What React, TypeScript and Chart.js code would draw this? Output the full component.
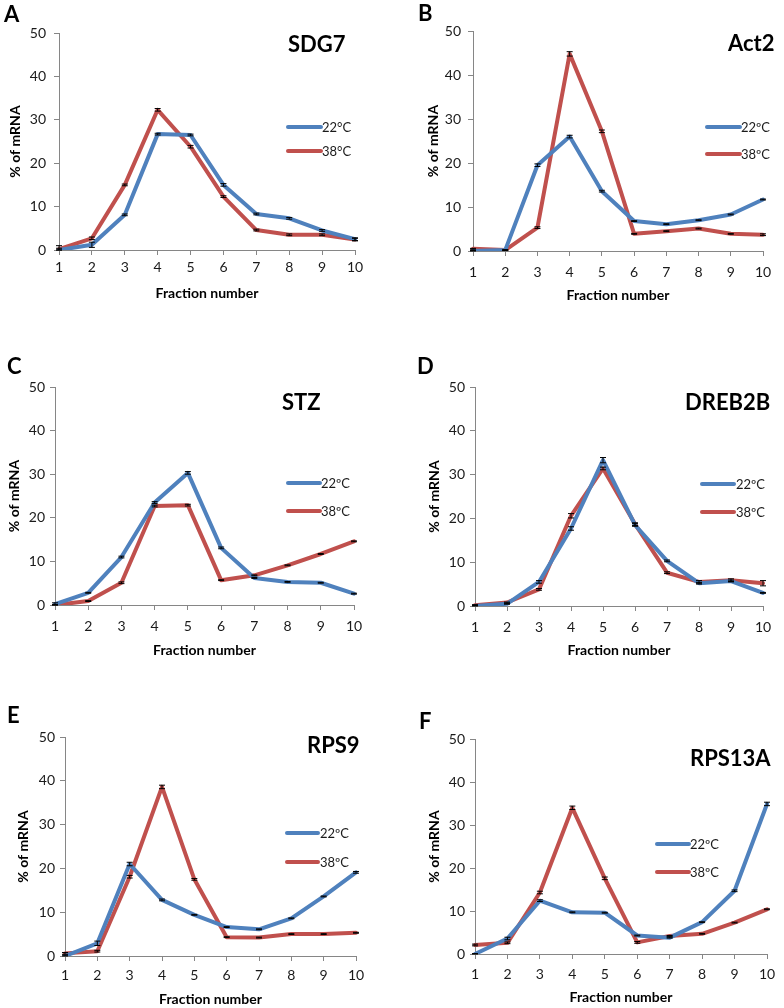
import React, { useEffect, useRef } from "react";
import { Chart, registerables } from "chart.js";
Chart.register(...registerables);

// ---------- data ----------
const fractions = ["1", "2", "3", "4", "5", "6", "7", "8", "9", "10"];
const yMin = 0;
const yMax = 50;
const yStep = 10;

const sdg7_22 = [0, 1.2, 8.1, 26.7, 26.5, 15.0, 8.3, 7.3, 4.5, 2.5];
const sdg7_38 = [0.2, 2.7, 15.0, 32.3, 23.8, 12.3, 4.6, 3.5, 3.5, 2.4];
const sdg7_22_err = [1.0, 0.6, 0.2, 0.2, 0.2, 0.3, 0.2, 0.2, 0.2, 0.3];
const sdg7_38_err = [0.2, 0.3, 0.2, 0.3, 0.3, 0.2, 0.2, 0.2, 0.2, 0.3];

const act2_22 = [0, 0.2, 19.5, 26.0, 13.6, 6.8, 6.1, 7.0, 8.3, 11.7];
const act2_38 = [0.5, 0.2, 5.3, 44.8, 27.2, 3.9, 4.5, 5.1, 3.9, 3.7];
const act2_22_err = [0.1, 0.1, 0.3, 0.3, 0.2, 0.1, 0.1, 0.1, 0.1, 0.1];
const act2_38_err = [0.1, 0.1, 0.2, 0.5, 0.3, 0.1, 0.1, 0.1, 0.1, 0.2];

const stz_22 = [0.2, 2.8, 11.0, 23.5, 30.3, 13.1, 6.2, 5.3, 5.1, 2.6];
const stz_38 = [0, 0.9, 5.1, 22.7, 22.9, 5.7, 6.8, 9.1, 11.7, 14.6];
const stz_22_err = [0.3, 0.1, 0.2, 0.2, 0.3, 0.2, 0.1, 0.1, 0.1, 0.1];
const stz_38_err = [0.1, 0.1, 0.2, 0.2, 0.2, 0.1, 0.1, 0.1, 0.1, 0.1];

const dreb2b_22 = [0, 0.5, 5.5, 17.7, 33.3, 18.5, 10.3, 5.2, 5.7, 3.0];
const dreb2b_38 = [0.2, 0.8, 3.8, 20.6, 31.4, 18.7, 7.6, 5.5, 5.9, 5.2];
const dreb2b_22_err = [0.2, 0.1, 0.3, 0.4, 0.6, 0.3, 0.2, 0.2, 0.2, 0.1];
const dreb2b_38_err = [0.1, 0.1, 0.2, 0.5, 0.3, 0.3, 0.2, 0.3, 0.3, 0.6];

const rps9_22 = [0, 2.9, 21.0, 12.8, 9.4, 6.6, 6.1, 8.6, 13.6, 19.1];
const rps9_38 = [0.6, 1.1, 18.1, 38.6, 17.5, 4.3, 4.2, 5.0, 5.0, 5.3];
const rps9_22_err = [0.2, 0.5, 0.4, 0.2, 0.1, 0.1, 0.1, 0.1, 0.1, 0.2];
const rps9_38_err = [0.2, 0.2, 0.3, 0.4, 0.2, 0.1, 0.1, 0.1, 0.1, 0.1];

const rps13a_22 = [0, 3.6, 12.4, 9.7, 9.6, 4.3, 3.8, 7.4, 14.7, 34.9];
const rps13a_38 = [2.1, 2.6, 14.3, 34.0, 17.6, 2.7, 4.2, 4.7, 7.3, 10.4];
const rps13a_22_err = [0.1, 0.3, 0.2, 0.1, 0.1, 0.1, 0.1, 0.1, 0.2, 0.4];
const rps13a_38_err = [0.2, 0.2, 0.3, 0.4, 0.3, 0.2, 0.1, 0.1, 0.1, 0.1];

const legendDeg = ["22°C", "38°C"];
const legendOrd = ["22ºC", "38ºC"];
const xTitle = "Fraction number";
const yTitle = "% of mRNA";

// ---------- style ----------
const BLUE = "#4F81BD";
const RED = "#C0504D";
const AXIS = "#868686";
const TEXT = "#1a1a1a";
const FONT = "Lato, 'Open Sans', sans-serif";
const CW = 392;
const YW = 52;
const XH = 52;

type Lay = {
  left: number; top: number; right: number; bottom: number;
  letter: [number, number]; title: [number, number];
  lx1: number; lx2: number; ly1: number; ly2: number; tx: number;
  yGap: number; xLab: number; yT: number; xT: number;
};

const panels = [
  { id: "A", gene: "SDG7", names: legendDeg, s22: sdg7_22, s38: sdg7_38, e22: sdg7_22_err, e38: sdg7_38_err, x: 0, y: 0, h: 330,
    lay: { left: 59, top: 33, right: 355, bottom: 250, letter: [4, 14], title: [288, 44], lx1: 288, lx2: 321, ly1: 127, ly2: 151, tx: 322, yGap: 13, xLab: 17, yT: 44, xT: 43 } as Lay },
  { id: "B", gene: "Act2", names: legendOrd, s22: act2_22, s38: act2_38, e22: act2_22_err, e38: act2_38_err, x: 392, y: 0, h: 330,
    lay: { left: 81, top: 31, right: 371, bottom: 251, letter: [26, 13], title: [336, 43], lx1: 315, lx2: 348, ly1: 127, ly2: 154, tx: 349, yGap: 12, xLab: 21, yT: 40, xT: 44 } as Lay },
  { id: "C", gene: "STZ", names: legendOrd, s22: stz_22, s38: stz_38, e22: stz_22_err, e38: stz_38_err, x: 0, y: 330, h: 330,
    lay: { left: 55, top: 57, right: 354, bottom: 275, letter: [7, 36], title: [282, 72], lx1: 288, lx2: 320, ly1: 153, ly2: 181, tx: 321, yGap: 10, xLab: 21, yT: 41, xT: 45 } as Lay },
  { id: "D", gene: "DREB2B", names: legendOrd, s22: dreb2b_22, s38: dreb2b_38, e22: dreb2b_22_err, e38: dreb2b_38_err, x: 392, y: 330, h: 330,
    lay: { left: 83, top: 57, right: 371, bottom: 276, letter: [25, 36], title: [293, 72], lx1: 310, lx2: 342, ly1: 154, ly2: 182, tx: 344, yGap: 10, xLab: 21, yT: 41, xT: 44 } as Lay },
  { id: "E", gene: "RPS9", names: legendOrd, s22: rps9_22, s38: rps9_38, e22: rps9_22_err, e38: rps9_38_err, x: 0, y: 660, h: 348,
    lay: { left: 65, top: 77, right: 356, bottom: 296, letter: [7, 55], title: [307, 85], lx1: 287, lx2: 318, ly1: 173, ly2: 202, tx: 320, yGap: 10, xLab: 19, yT: 42, xT: 43 } as Lay },
  { id: "F", gene: "RPS13A", names: legendOrd, s22: rps13a_22, s38: rps13a_38, e22: rps13a_22_err, e38: rps13a_38_err, x: 392, y: 660, h: 348,
    lay: { left: 83, top: 79, right: 375, bottom: 294, letter: [27, 61], title: [298, 98], lx1: 265, lx2: 297, ly1: 184, ly2: 212, tx: 298, yGap: 10, xLab: 20, yT: 41, xT: 43 } as Lay },
];

type Panel = (typeof panels)[number];

function makeErrorBars() {
  return {
    id: "errorBars",
    afterDatasetsDraw(chart: any) {
      const ctx = chart.ctx;
      const ys = chart.scales.y;
      chart.data.datasets.forEach((ds: any, i: number) => {
        const errs = ds.errors as number[] | undefined;
        if (!errs) return;
        const meta = chart.getDatasetMeta(i);
        meta.data.forEach((pt: any, j: number) => {
          const v = ds.data[j] as number;
          const e = errs[j];
          const yT = ys.getPixelForValue(v + e);
          const yB = ys.getPixelForValue(Math.max(0, v - e));
          ctx.save();
          ctx.strokeStyle = "#000";
          ctx.lineWidth = 1;
          ctx.beginPath();
          ctx.moveTo(pt.x, yT);
          ctx.lineTo(pt.x, yB);
          ctx.moveTo(pt.x - 3, yT);
          ctx.lineTo(pt.x + 3, yT);
          ctx.moveTo(pt.x - 3, yB);
          ctx.lineTo(pt.x + 3, yB);
          ctx.stroke();
          ctx.restore();
        });
      });
    },
  };
}

function makeOverlay(p: Panel) {
  return {
    id: "overlay",
    afterDraw(chart: any) {
      const ctx = chart.ctx as CanvasRenderingContext2D;
      const L = p.lay;
      ctx.save();
      ctx.fillStyle = "#000";
      ctx.textBaseline = "alphabetic";
      ctx.textAlign = "left";
      ctx.font = `bold 22px ${FONT}`;
      ctx.fillText(p.id, L.letter[0], L.letter[1] + 8);
      ctx.font = `bold 22px ${FONT}`;
      ctx.fillText(p.gene, L.title[0], L.title[1] + 8);
      const colors = [BLUE, RED];
      const ys = [L.ly1, L.ly2];
      for (let k = 0; k < 2; k++) {
        ctx.strokeStyle = colors[k];
        ctx.lineWidth = 4;
        ctx.lineCap = "round";
        ctx.beginPath();
        ctx.moveTo(L.lx1, ys[k]);
        ctx.lineTo(L.lx2, ys[k]);
        ctx.stroke();
        ctx.fillStyle = TEXT;
        ctx.font = `13px ${FONT}`;
        ctx.fillText(p.names[k], L.tx, ys[k] + 4.7);
      }
      ctx.restore();
    },
  };
}

function PanelChart({ p }: { p: Panel }) {
  const ref = useRef<HTMLCanvasElement | null>(null);
  useEffect(() => {
    if (!ref.current) return;
    const L = p.lay;
    const chart = new Chart(ref.current, {
      type: "line",
      data: {
        labels: fractions,
        datasets: [
          { label: p.names[0], data: p.s22, errors: p.e22, borderColor: BLUE, backgroundColor: BLUE, borderWidth: 4, pointRadius: 0, borderCapStyle: "round", borderJoinStyle: "round", tension: 0 } as any,
          { label: p.names[1], data: p.s38, errors: p.e38, borderColor: RED, backgroundColor: RED, borderWidth: 4, pointRadius: 0, borderCapStyle: "round", borderJoinStyle: "round", tension: 0 } as any,
        ],
      },
      options: {
        animation: false,
        responsive: false,
        maintainAspectRatio: false,
        layout: {
          padding: { left: L.left - YW, top: L.top, right: CW - L.right, bottom: p.h - L.bottom - XH },
        },
        plugins: { legend: { display: false }, tooltip: { enabled: false } },
        scales: {
          x: {
            type: "category",
            offset: false,
            grid: { display: true, drawOnChartArea: false, drawTicks: true, tickLength: 5, color: AXIS },
            border: { display: true, color: AXIS, width: 1 },
            ticks: { color: TEXT, font: { family: FONT, size: 14 }, padding: L.xLab - 5 - 8.4, maxRotation: 0, autoSkip: false },
            title: { display: true, text: xTitle, color: "#000", font: { family: FONT, size: 14, weight: "bold", lineHeight: 1 }, padding: { top: 0, bottom: XH - 7 - L.xT } },
            afterFit: (s: any) => { s.height = XH; },
          },
          y: {
            min: yMin,
            max: yMax,
            grid: { display: true, drawOnChartArea: false, drawTicks: true, tickLength: 5, color: AXIS },
            border: { display: true, color: AXIS, width: 1 },
            ticks: { stepSize: yStep, color: TEXT, font: { family: FONT, size: 14 }, padding: L.yGap - 5 },
            title: { display: true, text: yTitle, color: "#000", font: { family: FONT, size: 14, weight: "bold", lineHeight: 1 }, padding: { top: YW - 7 - L.yT, bottom: 0 } },
            afterFit: (s: any) => { s.width = YW; },
          },
        },
      } as any,
      plugins: [makeErrorBars(), makeOverlay(p)],
    });
    return () => chart.destroy();
  }, [p]);
  return (
    <canvas
      ref={ref}
      width={CW}
      height={p.h}
      style={{ position: "absolute", left: p.x, top: p.y, width: CW, height: p.h, display: "block" }}
    />
  );
}

export default function App() {
  return (
    <div style={{ position: "absolute", left: 0, top: 0, width: 784, height: 1008, background: "#fff", overflow: "hidden" }}>
      {panels.map((p) => (
        <PanelChart key={p.id} p={p} />
      ))}
    </div>
  );
}
